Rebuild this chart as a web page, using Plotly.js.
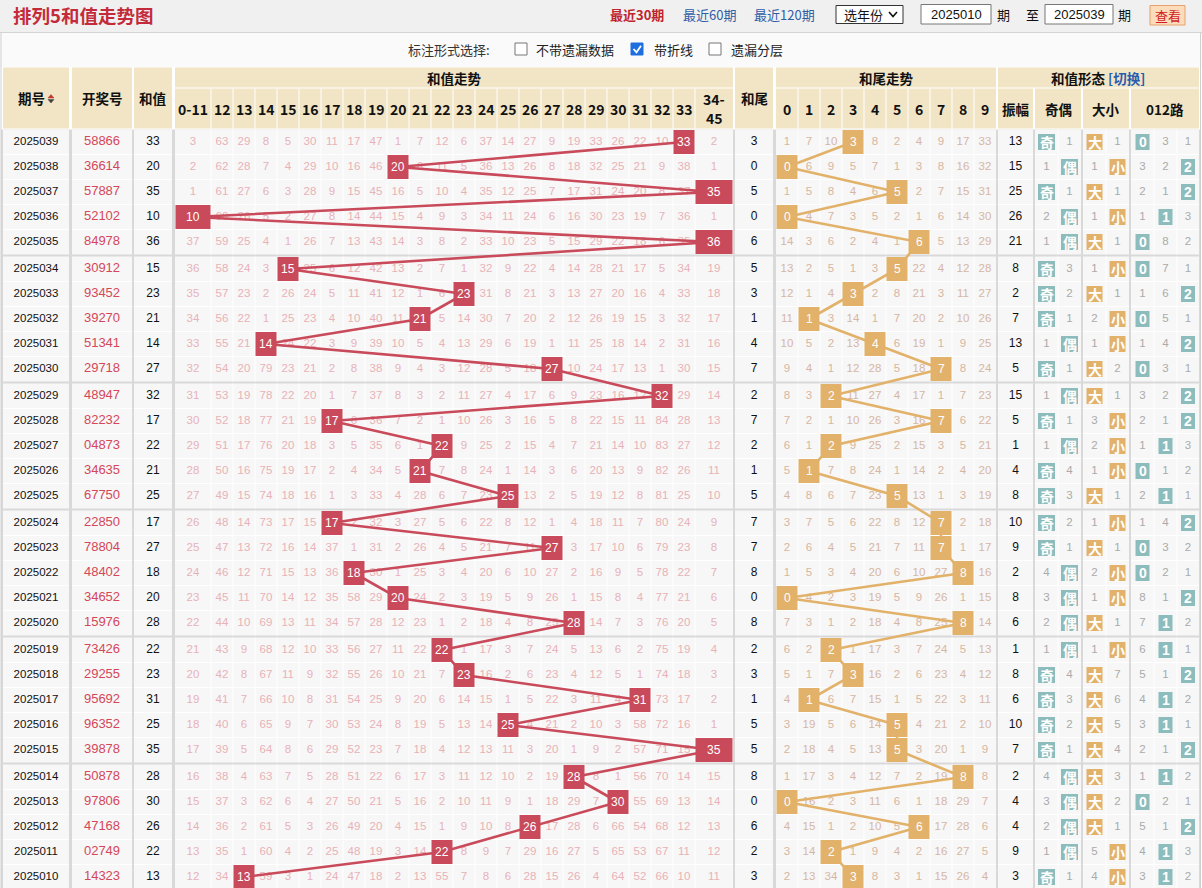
<!DOCTYPE html>
<html><head><meta charset="utf-8">
<script src="https://cdn.plot.ly/plotly-3.0.1.min.js"></script>
<style>html,body{margin:0;padding:0;background:#fff}#chart{width:1202px;height:888px}</style>
</head><body><div id="chart"></div>
<script>
// ================= DATA =================
const periods = ['2025039','2025038','2025037','2025036','2025035','2025034','2025033','2025032','2025031','2025030',
 '2025029','2025028','2025027','2025026','2025025','2025024','2025023','2025022','2025021','2025020',
 '2025019','2025018','2025017','2025016','2025015','2025014','2025013','2025012','2025011','2025010'];
const draws = ['58866','36614','57887','52102','84978','30912','93452','39270','51341','29718',
 '48947','82232','04873','34635','67750','22850','78804','48402','34652','15976',
 '73426','29255','95692','96352','39878','50878','97806','47168','02749','14323'];
const sums = [33,20,35,10,36,15,23,21,14,27,32,17,22,21,25,17,27,18,20,28,22,23,31,25,35,28,30,26,22,13];
const tails = [3,0,5,0,6,5,3,1,4,7,2,7,2,1,5,7,7,8,0,8,2,3,1,5,5,8,0,6,2,3];
const amplitudes = [13,15,25,26,21,8,2,7,13,5,15,5,1,4,8,10,9,2,8,6,1,8,6,10,7,2,4,4,9,3];
const sumColLabels = ['0-11','12','13','14','15','16','17','18','19','20','21','22','23','24','25','26','27','28','29','30','31','32','33','34-45'];
const tailColLabels = ['0','1','2','3','4','5','6','7','8','9'];
// omission counts (0 = hit)
const sumOmit = [
 [3,63,29,8,5,30,11,17,47,1,7,12,6,37,14,27,9,19,33,26,22,10,0,2],
 [2,62,28,7,4,29,10,16,46,0,6,11,5,36,13,26,8,18,32,25,21,9,38,1],
 [1,61,27,6,3,28,9,15,45,16,5,10,4,35,12,25,7,17,31,24,20,8,37,0],
 [0,60,26,5,2,27,8,14,44,15,4,9,3,34,11,24,6,16,30,23,19,7,36,1],
 [37,59,25,4,1,26,7,13,43,14,3,8,2,33,10,23,5,15,29,22,18,6,35,0],
 [36,58,24,3,0,25,6,12,42,13,2,7,1,32,9,22,4,14,28,21,17,5,34,19],
 [35,57,23,2,26,24,5,11,41,12,1,6,0,31,8,21,3,13,27,20,16,4,33,18],
 [34,56,22,1,25,23,4,10,40,11,0,5,14,30,7,20,2,12,26,19,15,3,32,17],
 [33,55,21,0,24,22,3,9,39,10,5,4,13,29,6,19,1,11,25,18,14,2,31,16],
 [32,54,20,79,23,21,2,8,38,9,4,3,12,28,5,18,0,10,24,17,13,1,30,15],
 [31,53,19,78,22,20,1,7,37,8,3,2,11,27,4,17,6,9,23,16,12,0,29,14],
 [30,52,18,77,21,19,0,6,36,7,2,1,10,26,3,16,5,8,22,15,11,84,28,13],
 [29,51,17,76,20,18,3,5,35,6,1,0,9,25,2,15,4,7,21,14,10,83,27,12],
 [28,50,16,75,19,17,2,4,34,5,0,7,8,24,1,14,3,6,20,13,9,82,26,11],
 [27,49,15,74,18,16,1,3,33,4,28,6,7,23,0,13,2,5,19,12,8,81,25,10],
 [26,48,14,73,17,15,0,2,32,3,27,5,6,22,8,12,1,4,18,11,7,80,24,9],
 [25,47,13,72,16,14,37,1,31,2,26,4,5,21,7,11,0,3,17,10,6,79,23,8],
 [24,46,12,71,15,13,36,0,30,1,25,3,4,20,6,10,27,2,16,9,5,78,22,7],
 [23,45,11,70,14,12,35,58,29,0,24,2,3,19,5,9,26,1,15,8,4,77,21,6],
 [22,44,10,69,13,11,34,57,28,12,23,1,2,18,4,8,25,0,14,7,3,76,20,5],
 [21,43,9,68,12,10,33,56,27,11,22,0,1,17,3,7,24,5,13,6,2,75,19,4],
 [20,42,8,67,11,9,32,55,26,10,21,7,0,16,2,6,23,4,12,5,1,74,18,3],
 [19,41,7,66,10,8,31,54,25,9,20,6,14,15,1,5,22,3,11,4,0,73,17,2],
 [18,40,6,65,9,7,30,53,24,8,19,5,13,14,0,4,21,2,10,3,58,72,16,1],
 [17,39,5,64,8,6,29,52,23,7,18,4,12,13,11,3,20,1,9,2,57,71,15,0],
 [16,38,4,63,7,5,28,51,22,6,17,3,11,12,10,2,19,0,8,1,56,70,14,15],
 [15,37,3,62,6,4,27,50,21,5,16,2,10,11,9,1,18,29,7,0,55,69,13,14],
 [14,36,2,61,5,3,26,49,20,4,15,1,9,10,8,0,17,28,6,66,54,68,12,13],
 [13,35,1,60,4,2,25,48,19,3,14,0,8,9,7,29,16,27,5,65,53,67,11,12],
 [12,34,0,59,3,1,24,47,18,2,13,55,7,8,6,28,15,26,4,64,52,66,10,11]];
const tailOmit = [
 [1,7,10,0,8,2,4,9,17,33],[0,6,9,5,7,1,3,8,16,32],[1,5,8,4,6,0,2,7,15,31],[0,4,7,3,5,2,1,6,14,30],[14,3,6,2,4,1,0,5,13,29],
 [13,2,5,1,3,0,22,4,12,28],[12,1,4,0,2,8,21,3,11,27],[11,0,3,14,1,7,20,2,10,26],[10,5,2,13,0,6,19,1,9,25],[9,4,1,12,28,5,18,0,8,24],
 [8,3,0,11,27,4,17,1,7,23],[7,2,1,10,26,3,16,0,6,22],[6,1,0,9,25,2,15,3,5,21],[5,0,7,8,24,1,14,2,4,20],[4,8,6,7,23,0,13,1,3,19],
 [3,7,5,6,22,8,12,0,2,18],[2,6,4,5,21,7,11,0,1,17],[1,5,3,4,20,6,10,27,0,16],[0,4,2,3,19,5,9,26,1,15],[7,3,1,2,18,4,8,25,0,14],
 [6,2,0,1,17,3,7,24,5,13],[5,1,7,0,16,2,6,23,4,12],[4,0,6,7,15,1,5,22,3,11],[3,19,5,6,14,0,4,21,2,10],[2,18,4,5,13,0,3,20,1,9],
 [1,17,3,4,12,7,2,19,0,8],[0,16,2,3,11,6,1,18,29,7],[4,15,1,2,10,5,0,17,28,6],[3,14,0,1,9,4,2,16,27,5],[2,13,34,0,8,3,1,15,26,4]];
const oddEvenLabels = ['奇','偶'];
const oddEvenOmit = [[0,1],[1,0],[0,1],[2,0],[1,0],[0,3],[0,2],[0,1],[1,0],[0,1],
 [1,0],[0,1],[1,0],[0,4],[0,3],[0,2],[0,1],[4,0],[3,0],[2,0],
 [1,0],[0,4],[0,3],[0,2],[0,1],[4,0],[3,0],[2,0],[1,0],[0,1]];
const bigSmallLabels = ['大','小'];
const bigSmallOmit = [[0,1],[1,0],[0,1],[1,0],[0,1],[1,0],[0,1],[2,0],[1,0],[0,2],
 [0,1],[3,0],[2,0],[1,0],[0,1],[1,0],[0,1],[2,0],[1,0],[0,1],
 [1,0],[0,7],[0,6],[0,5],[0,4],[0,3],[0,2],[0,1],[5,0],[4,0]];
const mod3Labels = ['0','1','2'];
const mod3Omit = [[0,3,1],[3,2,0],[2,1,0],[1,0,3],[0,8,2],[0,7,1],[1,6,0],[0,5,1],[1,4,0],[0,3,1],
 [3,2,0],[2,1,0],[1,0,3],[0,1,2],[2,0,1],[1,4,0],[0,3,2],[0,2,1],[8,1,0],[7,0,2],
 [6,0,1],[5,1,0],[4,0,2],[3,0,1],[2,1,0],[1,0,2],[0,2,1],[5,1,0],[4,0,3],[3,0,2]];

// ================= STYLE / GEOMETRY =================
const NUM = '"Liberation Sans", Arial, sans-serif';
const CJK = '"Noto Sans CJK SC", "Noto Sans", sans-serif';
const C_HEAD = '#f1e5c6', C_CELL = '#f7f7f7', C_SEP = '#d9d9d9';
const C_RED = '#c94a5a', C_GOLD = '#e2b26a', C_TEAL = '#8dbcbc';
const nRows = periods.length;
const rowY = i => 142 + i * 25 + Math.floor(i / 5) * 2;
const rowTop = i => rowY(i) - 12.5, rowBot = i => rowY(i) + 12.5;
function seq(x0, widths) { const out = []; let x = x0; widths.forEach(w => { out.push([x, x + w]); x += w; }); return out; }
const trendCols = seq(175, [36].concat(Array(sumColLabels.length - 2).fill(22)).concat([38]));
const tailCols = seq(776, Array(tailColLabels.length).fill(22));
const oeCols = seq(1035, [23, 23]);
const bsCols = seq(1083, [23, 23]);
const m3Cols = seq(1131, [23, 23, 22]);
const cPeriod = [3, 69], cDraw = [72, 132], cSum = [134, 172], cTail = [735, 773], cAmp = [998, 1033];
const mid = c => (c[0] + c[1]) / 2;
const sections = [cPeriod, cDraw, cSum, [175, 733], cTail, [776, 996], cAmp, [1035, 1081], [1083, 1129], [1131, 1199]];

const shapes = [], annotations = [], traces = [];
function rect(x0, x1, y0, y1, fill, layer, line) {
  shapes.push({type: 'rect', xref: 'x', yref: 'y', x0, x1, y0, y1, fillcolor: fill, line: line || {width: 0}, layer: layer || 'below'});
}
function pathShape(d, color, width, layer, fill) {
  shapes.push({type: 'path', xref: 'x', yref: 'y', path: d, line: {color, width}, fillcolor: fill || 'rgba(0,0,0,0)', layer: layer || 'below'});
}
function ann(x, y, text, size, color, family, xanchor) {
  annotations.push({x, y, xref: 'x', yref: 'y', text, showarrow: false, font: {size, color, family}, xanchor: xanchor || 'center', yanchor: 'middle'});
}

// ---------- top bar ----------
rect(0, 1202, 0, 32, '#f0f0f0');
pathShape('M0,32.5 L1202,32.5', '#d4d4d4', 1);
rect(0, 1202, 33, 67, '#fafafa');
ann(11, 14.5, '<b>排列5和值走势图</b>', 18.5, '#c42b3a', CJK, 'left');
ann(637, 14, '<b>最近30期</b>', 13, '#c0232d', CJK);
ann(709, 14, '最近60期', 13, '#2f5da6', CJK);
ann(784, 14, '最近120期', 13, '#2f5da6', CJK);
rect(836, 903, 5.5, 23.5, '#ffffff', 'below', {color: '#333', width: 1});
ann(842, 14.5, '选年份', 13, '#111', CJK, 'left');
pathShape('M889,12 L893,16.5 L897,12', '#111', 1.6);
rect(921, 991, 4.5, 24, '#ffffff', 'below', {color: '#777', width: 1});
ann(956, 14.5, '2025010', 13, '#111', NUM);
ann(1003, 14.5, '期', 13, '#111', CJK);
ann(1032, 14.5, '至', 13, '#111', CJK);
rect(1045, 1113, 4.5, 24, '#ffffff', 'below', {color: '#777', width: 1});
ann(1079, 14.5, '2025039', 13, '#111', NUM);
ann(1124, 14.5, '期', 13, '#111', CJK);
rect(1150, 1185, 5.5, 25, '#fddcbc', 'below', {color: '#e6a06a', width: 1});
ann(1167.5, 15, '查看', 13, '#cf1b22', CJK);

// ---------- options row ----------
ann(406, 49, '标注形式选择:', 13, '#333', CJK, 'left');
rect(515, 527, 43, 55, '#ffffff', 'below', {color: '#767676', width: 1});
ann(534, 49, '不带遗漏数据', 13, '#222', CJK, 'left');
rect(631, 643, 43, 55, '#1f6fe0', 'below', {color: '#1f6fe0', width: 1});
pathShape('M633.5,49 L636.5,52.3 L641,45.8', '#ffffff', 1.8);
ann(652, 49, '带折线', 13, '#222', CJK, 'left');
rect(709, 721, 43, 55, '#ffffff', 'below', {color: '#767676', width: 1});
ann(729, 49, '遗漏分层', 13, '#222', CJK, 'left');

// ---------- header ----------
const h1 = [67.5, 87.5], h2 = [88.5, 128.5];
[cPeriod, cDraw, cSum, cTail].forEach(c => rect(c[0], c[1], h1[0], h2[1], C_HEAD));
[[175, 733], [776, 996], [998, 1199]].forEach(c => rect(c[0], c[1], h1[0], h1[1], C_HEAD));
[[175, 733], [776, 996], cAmp, [1035, 1081], [1083, 1129], [1131, 1199]].forEach(c => rect(c[0], c[1], h2[0], h2[1], C_HEAD));
ann(31, 98, '<b>期号</b>', 13.5, '#111', CJK);
pathShape('M48,98 L51,94.5 L54,98 Z', '#c0392b', 0.5, 'below', '#c0392b');
pathShape('M48,99.5 L54,99.5 L51,103 Z', '#444', 0.5, 'below', '#444');
ann(mid(cDraw), 98, '<b>开奖号</b>', 13.5, '#111', CJK);
ann(mid(cSum), 98, '<b>和值</b>', 13.5, '#111', CJK);
ann(mid(cTail), 98, '<b>和尾</b>', 13.5, '#111', CJK);
ann(454, 78, '<b>和值走势</b>', 13.5, '#111', CJK);
ann(886, 78, '<b>和尾走势</b>', 13.5, '#111', CJK);
ann(1098, 78, '<b>和值形态 <span style="color:#2a5cb0">[切换]</span></b>', 13.5, '#111', CJK);
sumColLabels.forEach((lab, j) => {
  const x = mid(trendCols[j]);
  if (lab.indexOf('-') > 0 && j === sumColLabels.length - 1) {
    const p = lab.split('-');
    ann(x, 99, '<b>' + p[0] + '-</b>', 14, '#111', CJK);
    ann(x, 118, '<b>' + p[1] + '</b>', 14, '#111', CJK);
  } else ann(x, 109, '<b>' + lab + '</b>', 14, '#111', CJK);
});
tailColLabels.forEach((lab, j) => ann(mid(tailCols[j]), 109, '<b>' + lab + '</b>', 14, '#111', CJK));
ann(mid(cAmp), 109, '<b>振幅</b>', 13.5, '#111', CJK);
ann(1058, 109, '<b>奇偶</b>', 13.5, '#111', CJK);
ann(1106, 109, '<b>大小</b>', 13.5, '#111', CJK);
ann(1165, 109, '<b>012路</b>', 13.5, '#111', CJK);

// ---------- data area background ----------
rect(1, 1201, rowTop(0), rowBot(nRows - 1), C_SEP);
for (let g = 0; g * 5 < nRows; g++) {
  const y0 = rowTop(g * 5), y1 = rowBot(Math.min(g * 5 + 4, nRows - 1));
  sections.forEach(s => rect(s[0], s[1], y0, y1, C_CELL));
}
let hp = '';
for (let i = 0; i < nRows - 1; i++) {
  if (i % 5 === 4) continue;
  const y = rowBot(i);
  sections.forEach(s => { hp += 'M' + s[0] + ',' + y + ' L' + s[1] + ',' + y + ' '; });
}
pathShape(hp, '#ffffff', 1);
let vp = '';
const yRanges = [];
for (let g = 0; g * 5 < nRows; g++) yRanges.push([rowTop(g * 5), rowBot(Math.min(g * 5 + 4, nRows - 1))]);
function vlines(cols, ranges) {
  for (let k = 1; k < cols.length; k++) {
    const x = cols[k][0];
    ranges.forEach(r => { vp += 'M' + x + ',' + r[0] + ' L' + x + ',' + r[1] + ' '; });
  }
}
vlines(trendCols, yRanges.concat([h2]));
vlines(tailCols, yRanges.concat([h2]));
vlines(oeCols, yRanges); vlines(bsCols, yRanges); vlines(m3Cols, yRanges);
pathShape(vp, '#ffffff', 1);
pathShape('M1,33 L1,888 M1200.5,33 L1200.5,888', '#cfcfcf', 1);

// ---------- text traces ----------
const ys = periods.map((_, i) => rowY(i));
function textTrace(x, y, text, color, size, family) {
  traces.push({type: 'scatter', mode: 'text', x, y, text, textposition: 'middle center',
    textfont: {color, size, family: family || NUM}, hoverinfo: 'skip', cliponaxis: false});
}
textTrace(ys.map(() => mid(cPeriod)), ys, periods, '#111', 11.5);
textTrace(ys.map(() => mid(cDraw)), ys, draws, '#d4475a', 13);
textTrace(ys.map(() => mid(cSum)), ys, sums.map(String), '#111', 12);
textTrace(ys.map(() => mid(cTail)), ys, tails.map(String), '#111', 12);
textTrace(ys.map(() => mid(cAmp)), ys, amplitudes.map(String), '#111', 12);

function missTrace(omit, cols, color) {
  const x = [], y = [], t = [];
  omit.forEach((row, i) => row.forEach((v, j) => { if (v !== 0) { x.push(mid(cols[j])); y.push(rowY(i)); t.push(String(v)); } }));
  textTrace(x, y, t, color, 11.5);
}
missTrace(sumOmit, trendCols, '#e8b2b8');
missTrace(tailOmit, tailCols, '#d6b6a2');
missTrace(oddEvenOmit, oeCols, '#aaaaaa');
missTrace(bigSmallOmit, bsCols, '#aaaaaa');
missTrace(mod3Omit, m3Cols, '#aaaaaa');

// ---------- broken lines ----------
const sumHit = sumOmit.map(r => r.indexOf(0));
const tailHit = tailOmit.map(r => r.indexOf(0));
traces.push({type: 'scatter', mode: 'lines', x: sumHit.map(j => mid(trendCols[j])), y: ys,
  line: {color: C_RED, width: 2.6}, hoverinfo: 'skip'});
traces.push({type: 'scatter', mode: 'lines', x: tailHit.map(j => mid(tailCols[j])), y: ys,
  line: {color: C_GOLD, width: 2.6}, hoverinfo: 'skip'});

// ---------- hit cells ----------
sumHit.forEach((j, i) => {
  const c = trendCols[j];
  rect(c[0] + 0.5, c[1] - 0.5, rowTop(i) + 0.5, rowBot(i) - 0.5, C_RED, 'above');
  ann(mid(c), rowY(i), String(sums[i]), 12, '#ffffff', NUM);
});
tailHit.forEach((j, i) => {
  const c = tailCols[j];
  rect(c[0] + 0.5, c[1] - 0.5, rowTop(i) + 0.5, rowBot(i) - 0.5, C_GOLD, 'above');
  ann(mid(c), rowY(i), String(tails[i]), 12, '#ffffff', NUM);
});
function badges(omit, cols, labels, color, w, fam, fs) {
  omit.forEach((row, i) => row.forEach((v, j) => {
    if (v === 0) {
      const x = mid(cols[j]);
      rect(x - w / 2, x + w / 2, rowY(i) - 8, rowY(i) + 8, color, 'above');
      ann(x, rowY(i), '<b>' + labels[j] + '</b>', fs, '#ffffff', fam);
    }
  }));
}
badges(oddEvenOmit, oeCols, oddEvenLabels, C_TEAL, 17, CJK, 14);
badges(bigSmallOmit, bsCols, bigSmallLabels, C_GOLD, 16, CJK, 14);
badges(mod3Omit, m3Cols, mod3Labels, C_TEAL, 14, NUM, 14);

const layout = {
  width: 1202, height: 888, margin: {l: 0, r: 0, t: 0, b: 0, pad: 0},
  paper_bgcolor: '#ffffff', plot_bgcolor: '#ffffff', showlegend: false, hovermode: false,
  xaxis: {range: [0, 1202], autorange: false, visible: false, fixedrange: true},
  yaxis: {range: [888, 0], autorange: false, visible: false, fixedrange: true},
  shapes, annotations
};
Plotly.newPlot('chart', traces, layout, {staticPlot: true, displayModeBar: false});
</script></body></html>
